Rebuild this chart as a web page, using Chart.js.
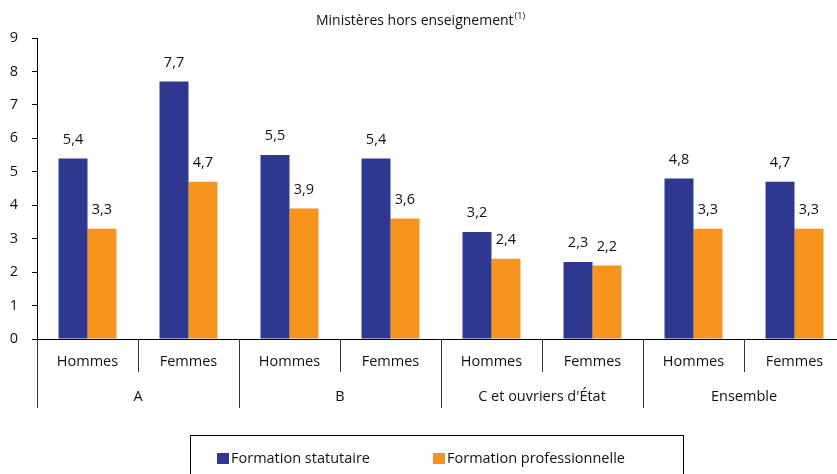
<!DOCTYPE html>
<html lang="fr">
<head>
<meta charset="utf-8">
<script src="https://cdn.jsdelivr.net/npm/chart.js@4.4.1/dist/chart.umd.min.js"></script>
<style>
  body { margin: 0; background: #fff; overflow: hidden; font-family: "Open Sans", sans-serif; }
  .wrap { position: relative; width: 837px; height: 474px; overflow: hidden; }
  #chart { position: absolute; left: 0; top: 0; }
  .legend {
    position: absolute; left: 190px; top: 435px; width: 494px; height: 60px;
    border: 1px solid #000; box-sizing: border-box; font-size: 14.5px; color: #111;
  }
  .legend span { position: absolute; top: 12px; white-space: nowrap; }
  .legend i { display: inline-block; width: 12px; height: 11px; margin-right: 2px; vertical-align: -1px; }
</style>
</head>
<body>
<div class="wrap">
  <canvas id="chart" width="845" height="474"></canvas>
  <div class="legend" id="legend"></div>
</div>
<script>
// Data
const groups = ["A", "B", "C et ouvriers d'État", "Ensemble"];
const subLabels = ["Hommes", "Femmes", "Hommes", "Femmes", "Hommes", "Femmes", "Hommes", "Femmes"];
const statutaire = [5.4, 7.7, 5.5, 5.4, 3.2, 2.3, 4.8, 4.7];
const professionnelle = [3.3, 4.7, 3.9, 3.6, 2.4, 2.2, 3.3, 3.3];
const seriesNames = ["Formation statutaire", "Formation professionnelle"];
const yTicks = [0, 1, 2, 3, 4, 5, 6, 7, 8, 9];

const BLUE = "#2e3890";
const ORANGE = "#f7941d";
const FONT = '"Open Sans", sans-serif';

// Draws title, two-level category axis and value labels
const decorPlugin = {
  id: "decor",
  afterDraw(chart) {
    const { ctx, chartArea } = chart;
    const { left, right, bottom } = chartArea;
    const step = (right - left) / subLabels.length;
    ctx.save();

    // title
    ctx.fillStyle = "#111";
    ctx.font = "14px " + FONT;
    ctx.textBaseline = "middle";
    const title = "Ministères hors enseignement";
    const tw = ctx.measureText(title).width;
    ctx.font = "9px " + FONT;
    const sw = ctx.measureText("(1)").width;
    const tx = 420 - (tw + sw) / 2;
    ctx.font = "14px " + FONT;
    ctx.textAlign = "left";
    ctx.fillText(title, tx, 21);
    ctx.font = "9px " + FONT;
    ctx.fillText("(1)", tx + tw + 1, 16);

    // x axis line
    ctx.strokeStyle = "#000";
    ctx.lineWidth = 1;
    ctx.beginPath();
    ctx.moveTo(left - 5, Math.round(bottom) + 0.5);
    ctx.lineTo(right, Math.round(bottom) + 0.5);
    ctx.stroke();

    // dividers
    ctx.strokeStyle = "#333";
    for (let i = 0; i <= subLabels.length; i++) {
      const x = Math.round(left + i * step) + 0.5;
      const len = i % 2 === 0 ? 69 : 33;
      ctx.beginPath();
      ctx.moveTo(x, bottom);
      ctx.lineTo(x, bottom + len);
      ctx.stroke();
    }

    // sub labels
    ctx.fillStyle = "#111";
    ctx.font = "14.5px " + FONT;
    ctx.textAlign = "center";
    subLabels.forEach((l, i) => ctx.fillText(l, left + (i + 0.5) * step, bottom + 23));
    groups.forEach((g, i) => ctx.fillText(g, left + (2 * i + 1) * step, bottom + 58));

    // value labels
    chart.data.datasets.forEach((ds, di) => {
      chart.getDatasetMeta(di).data.forEach((bar, i) => {
        const txt = ds.data[i].toFixed(1).replace(".", ",");
        ctx.fillText(txt, bar.x, bar.y - 19);
      });
    });
    ctx.restore();
  }
};

new Chart(document.getElementById("chart"), {
  type: "bar",
  data: {
    labels: subLabels,
    datasets: [
      { label: seriesNames[0], data: statutaire, backgroundColor: BLUE },
      { label: seriesNames[1], data: professionnelle, backgroundColor: ORANGE }
    ]
  },
  options: {
    responsive: false,
    animation: false,
    categoryPercentage: 0.574,
    barPercentage: 1,
    layout: { padding: { top: 38, bottom: 135, left: 0, right: 0 } },
    plugins: { legend: { display: false }, tooltip: { enabled: false } },
    scales: {
      x: { display: false },
      y: {
        min: 0, max: 9,
        afterFit: s => { s.width = 37; },
        afterBuildTicks: s => { s.ticks = yTicks.map(v => ({ value: v })); },
        ticks: { color: "#111", padding: 14, font: { family: FONT, size: 14.5 } },
        grid: { drawOnChartArea: false, drawTicks: true, tickLength: 5, color: "#000" },
        border: { display: true, color: "#000" }
      }
    }
  },
  plugins: [decorPlugin]
});

// Legend
const legend = document.getElementById("legend");
[[BLUE, 26], [ORANGE, 242]].forEach(([c, x], i) => {
  const s = document.createElement("span");
  s.style.left = x + "px";
  s.innerHTML = '<i style="background:' + c + '"></i>' + seriesNames[i];
  legend.appendChild(s);
});
</script>
</body>
</html>
